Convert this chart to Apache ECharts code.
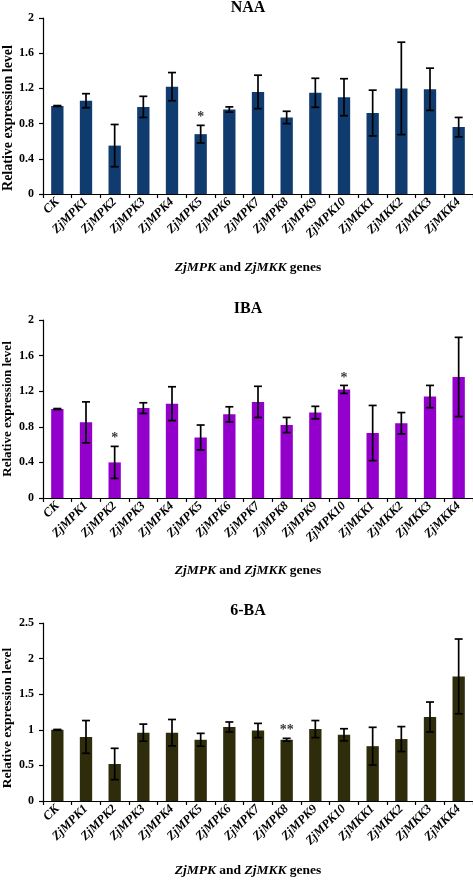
<!DOCTYPE html>
<html>
<head>
<meta charset="utf-8">
<script src="https://cdn.jsdelivr.net/npm/echarts@6/dist/echarts.min.js"></script>
<style>
html,body{margin:0;padding:0;background:#fff;}
#chart{width:473px;height:880px;}
</style>
</head>
<body>
<div id="chart"></div>
<script>
const categories = ['CK','ZjMPK1','ZjMPK2','ZjMPK3','ZjMPK4','ZjMPK5','ZjMPK6','ZjMPK7','ZjMPK8','ZjMPK9','ZjMPK10','ZjMKK1','ZjMKK2','ZjMKK3','ZjMKK4'];

const naaMean = [1.00,1.06,0.55,0.99,1.22,0.68,0.96,1.16,0.87,1.15,1.10,0.92,1.20,1.19,0.76];
const naaErr  = [0.005,0.08,0.24,0.12,0.16,0.10,0.03,0.19,0.07,0.165,0.21,0.26,0.525,0.24,0.11];
const naaSig  = ['','','','','','*','','','','','','','','',''];

const ibaMean = [1.00,0.85,0.40,1.01,1.06,0.68,0.94,1.08,0.82,0.96,1.22,0.73,0.84,1.14,1.36];
const ibaErr  = [0.005,0.23,0.18,0.06,0.19,0.14,0.085,0.175,0.085,0.07,0.045,0.31,0.12,0.125,0.445];
const ibaSig  = ['','','*','','','','','','','','*','','','',''];

const baMean = [1.00,0.90,0.52,0.96,0.96,0.86,1.04,0.99,0.86,1.01,0.93,0.77,0.87,1.18,1.75];
const baErr  = [0.005,0.23,0.22,0.12,0.185,0.09,0.07,0.10,0.02,0.12,0.085,0.265,0.175,0.21,0.525];
const baSig  = ['','','','','','','','','**','','','','','',''];

const panelTitles = ['NAA','IBA','6-BA'];
const yMax = [2, 2, 2.5];
const yInterval = [0.4, 0.4, 0.5];

const panels = [
  {mean: naaMean, err: naaErr, sig: naaSig, color: '#103b6f'},
  {mean: ibaMean, err: ibaErr, sig: ibaSig, color: '#9300cc'},
  {mean: baMean, err: baErr, sig: baSig, color: '#2f2c0c'}
];
const grids = [
  {left: 43, top: 18, width: 430, height: 176},
  {left: 43, top: 320, width: 430, height: 178},
  {left: 43, top: 623, width: 430, height: 178}
];
const titleY = [8, 309, 611];
const xNameY = [268, 571, 871];
const yNameCenter = [118, 409, 718];
const yNameSize = [14, 13, 13.5];

const FONT = '"Liberation Serif", "Times New Roman", serif';

function fmt(v){ return (Math.round(v*10)/10).toString(); }

const option = {
  animation: false,
  grid: grids,
  xAxis: grids.map((g,i)=>({
    type: 'category', gridIndex: i, data: categories, boundaryGap: true,
    axisLine: {lineStyle: {color: '#000', width: 1.2}},
    axisTick: {show: true, inside: false, length: 4, interval: 0, lineStyle: {color: '#000', width: 1.2}},
    axisLabel: {interval: 0, rotate: 45, margin: 6, color: '#000', fontFamily: FONT, fontWeight: 'bold', fontStyle: 'italic', fontSize: 12.5},
    splitLine: {show: false}
  })),
  yAxis: grids.map((g,i)=>({
    type: 'value', gridIndex: i, min: 0, max: yMax[i], interval: yInterval[i],
    axisLine: {show: true, lineStyle: {color: '#000', width: 1.2}},
    axisTick: {show: true, length: 4, lineStyle: {color: '#000', width: 1.2}},
    axisLabel: {color: '#000', fontFamily: FONT, fontWeight: 'bold', fontSize: 12, margin: 9, formatter: fmt},
    splitLine: {show: false}
  })),
  series: [],
  graphic: []
};

panels.forEach((p, i) => {
  option.series.push({
    type: 'bar', xAxisIndex: i, yAxisIndex: i, data: p.mean, barWidth: '43%',
    itemStyle: {color: p.color}
  });
  option.series.push({
    type: 'custom', xAxisIndex: i, yAxisIndex: i, z: 5,
    data: p.mean.map((m, k) => [k, m - p.err[k], m + p.err[k]]),
    renderItem: function(params, api){
      const x = api.value(0);
      const hi = api.coord([x, api.value(2)]);
      const lo = api.coord([x, api.value(1)]);
      const w = 4;
      const st = {stroke: '#000', lineWidth: 1.7};
      return {type: 'group', children: [
        {type: 'line', shape: {x1: hi[0], y1: hi[1], x2: lo[0], y2: lo[1]}, style: st},
        {type: 'line', shape: {x1: hi[0]-w, y1: hi[1], x2: hi[0]+w, y2: hi[1]}, style: st},
        {type: 'line', shape: {x1: lo[0]-w, y1: lo[1], x2: lo[0]+w, y2: lo[1]}, style: st}
      ]};
    }
  });
  option.series.push({
    type: 'scatter', xAxisIndex: i, yAxisIndex: i, symbolSize: 1, z: 6,
    itemStyle: {color: 'rgba(0,0,0,0)'},
    data: p.sig.map((s, k) => s ? {value: [k, p.mean[k] + p.err[k]], sig: s} : null).filter(d => d),
    label: {show: true, position: 'top', distance: 0, color: '#000', fontFamily: FONT, fontWeight: 'bold', fontSize: 14,
      formatter: function(d){ return d.data.sig; }}
  });
  option.graphic.push({
    type: 'text', x: 248, y: titleY[i],
    style: {text: panelTitles[i], textAlign: 'center', textVerticalAlign: 'middle', font: 'bold 16px ' + FONT, fill: '#000'}
  });
  option.graphic.push({
    type: 'text', x: 248, y: xNameY[i],
    style: {
      text: '{i|ZjMPK} and {i|ZjMKK} genes', textAlign: 'center', textVerticalAlign: 'middle',
      font: 'bold 13.5px ' + FONT, fill: '#000',
      rich: {i: {fontStyle: 'italic', fontWeight: 'bold', fontSize: 13.5, fontFamily: FONT, color: '#000'}}
    }
  });
  option.graphic.push({
    type: 'text', x: 8, y: yNameCenter[i], rotation: Math.PI/2,
    style: {text: 'Relative expression level', textAlign: 'center', textVerticalAlign: 'middle', font: 'bold ' + yNameSize[i] + 'px ' + FONT, fill: '#000'}
  });
});

const chart = echarts.init(document.getElementById('chart'), null, {renderer: 'canvas'});
chart.setOption(option);
</script>
</body>
</html>
